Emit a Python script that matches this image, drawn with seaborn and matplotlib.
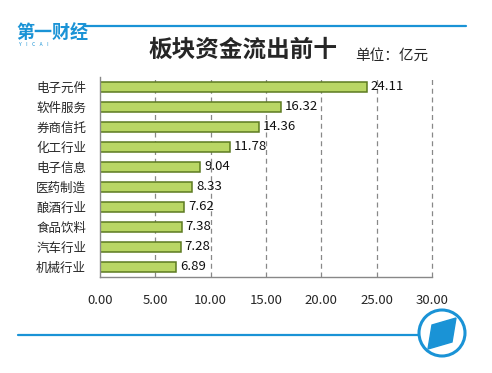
import matplotlib
matplotlib.use("Agg")
import matplotlib.pyplot as plt
import matplotlib.patches as mpatches
from matplotlib.lines import Line2D
import seaborn as sns
import pandas as pd
import numpy as np

# data
sectors = ["电子元件", "软件服务", "券商信托", "化工行业", "电子信息",
           "医药制造", "酿酒行业", "食品饮料", "汽车行业", "机械行业"]
outflow = [24.11, 16.32, 14.36, 11.78, 9.04, 8.33, 7.62, 7.38, 7.28, 6.89]
xticks = [0, 5, 10, 15, 20, 25, 30]

df = pd.DataFrame({"sector": sectors, "value": outflow})

sns.set_theme(style="white")
plt.rcParams['font.family'] = ['Noto Sans CJK SC', 'DejaVu Sans']

W, H = 492, 373
fig = plt.figure(figsize=(W / 100, H / 100), dpi=100)
ax = fig.add_axes([100 / W, 1 - 277 / H, 332 / W, 200 / H])

sns.barplot(data=df, x="value", y="sector", orient="h", ax=ax,
            color="#b9d665", edgecolor="#5c7a20", linewidth=1.1, width=0.52,
            saturation=1)

for i, v in enumerate(outflow):
    ax.text(v + 0.35, i, f"{v:.2f}", va="center", ha="left", fontsize=9.5,
            color="#111111")

ax.set_xlim(0, 30)
ax.set_ylim(len(sectors) - 0.5, -0.5)
ax.set_xticks(xticks)
ax.set_xticklabels([f"{t:.2f}" for t in xticks], fontsize=9.5)
ax.set_yticks(np.arange(-0.5, len(sectors), 1.0), minor=True)
ax.tick_params(axis="y", which="major", labelsize=9, length=0, pad=10)
ax.tick_params(axis="y", which="minor", length=4, color="#888888", width=1)
ax.tick_params(axis="x", length=4, color="#888888", direction="out", pad=8)
ax.set_xlabel("")
ax.set_ylabel("")
for xv in xticks[1:]:
    ax.axvline(xv, color="#888888", linestyle=(0, (4, 3)), linewidth=0.9,
               zorder=0, clip_on=False)
for s in ["top", "right"]:
    ax.spines[s].set_visible(False)
for s in ["left", "bottom"]:
    ax.spines[s].set_color("#888888")
    ax.spines[s].set_linewidth(1.0)

# title and unit
fig.text(243 / W, 1 - 50 / H, "板块资金流出前十", ha="center", va="center",
         fontsize=17, fontweight="bold")
fig.text(392 / W, 1 - 56 / H, "单位：亿元", ha="center", va="center", fontsize=10.5)

# decorations: blue rules and logos
blue = "#1a93d6"
fig.add_artist(Line2D([85 / W, 466 / W], [1 - 26 / H, 1 - 26 / H], color=blue, lw=1.6))
fig.add_artist(Line2D([18 / W, 418 / W], [1 - 335 / H, 1 - 335 / H], color=blue, lw=1.6))
fig.text(16 / W, 1 - 33 / H, "第一财经", ha="left", va="center", fontsize=13,
         fontweight="bold", color=blue)
fig.text(19 / W, 1 - 44 / H, "Y    I    C    A    I", ha="left", va="center",
         fontsize=3.5, color=blue)
circ = mpatches.Ellipse((442 / W, 1 - 333 / H), 46 / W, 46 / H, transform=fig.transFigure,
                        fill=False, edgecolor=blue, lw=2.2)
fig.add_artist(circ)
poly = mpatches.Polygon([(432 / W, 1 - 325 / H), (456 / W, 1 - 318 / H),
                         (452 / W, 1 - 342 / H), (428 / W, 1 - 349 / H)],
                        closed=True, transform=fig.transFigure, color=blue)
fig.add_artist(poly)

fig.savefig("out.png", dpi=100)
